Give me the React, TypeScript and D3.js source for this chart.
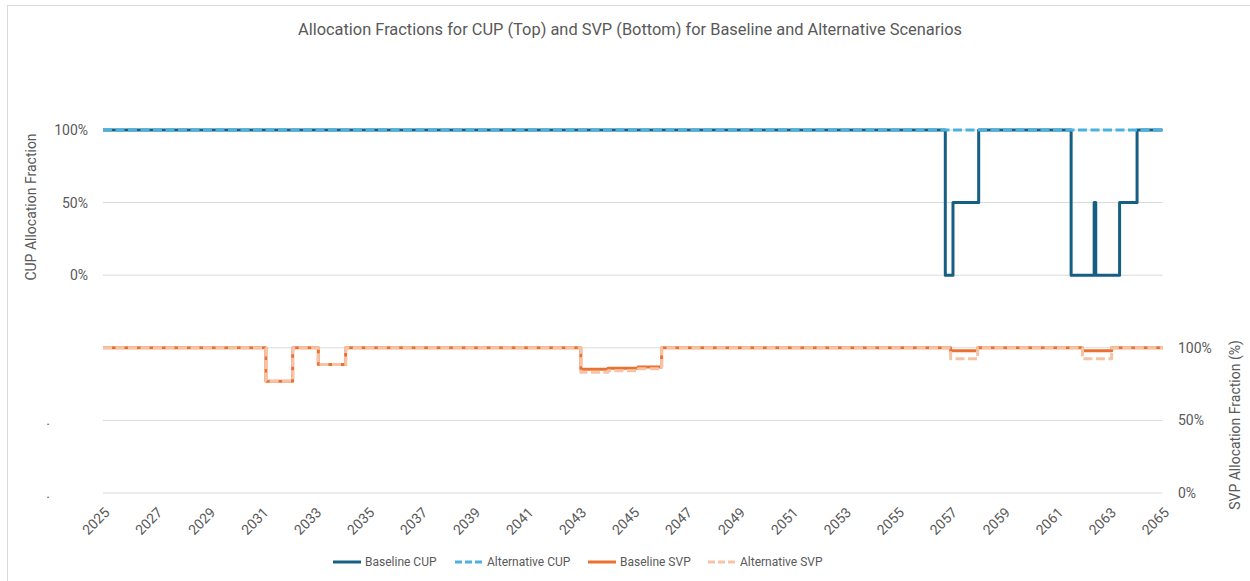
import React from "react";
import * as d3 from "d3";

// ---------- data (step change points: [year, percent]) ----------
const baselineCUP: [number, number][] = [
  [2025, 100], [2056.8, 0], [2057.09, 50], [2058.06, 100], [2061.55, 0],
  [2062.42, 50], [2062.48, 0], [2063.38, 50], [2064.04, 100], [2065, 100],
];
const alternativeCUP: [number, number][] = [
  [2025, 100], [2065, 100],
];
const baselineSVP: [number, number][] = [
  [2025, 100], [2031.15, 77], [2032.16, 100], [2033.13, 88.5], [2034.16, 100],
  [2043.04, 85.3], [2044.06, 86], [2045.2, 86.7], [2046.09, 100],
  [2057.0, 98], [2058.02, 100], [2061.98, 98], [2063.08, 100], [2065, 100],
];
const alternativeSVP: [number, number][] = [
  [2025, 100], [2031.15, 77], [2032.16, 100], [2033.13, 88.5], [2034.16, 100],
  [2043.04, 83.2], [2044.06, 84.2], [2045.2, 85.6], [2046.09, 100],
  [2057.0, 92.4], [2058.02, 100], [2061.98, 92.4], [2063.08, 100], [2065, 100],
];
const xTickYears = [2025, 2027, 2029, 2031, 2033, 2035, 2037, 2039, 2041, 2043, 2045,
  2047, 2049, 2051, 2053, 2055, 2057, 2059, 2061, 2063, 2065];
const leftTicks = [100, 50, 0, -50, -100, -150];
const leftTickLabels = ["100%", "50%", "0%", "", ".", "."];
const rightTicks = [100, 50, 0];
const rightTickLabels = ["100%", "50%", "0%"];

const seriesNames = ["Baseline CUP", "Alternative CUP", "Baseline SVP", "Alternative SVP"];

const W = 1250, H = 581;
const FONT = "Roboto, 'Liberation Sans', sans-serif";
const TXT = "#595959";

export default function App() {
  const x = d3.scaleLinear().domain([2025, 2065]).range([103, 1162.5]);
  const yL = d3.scaleLinear().domain([-150, 100]).range([493, 130]);
  const yR = d3.scaleLinear().domain([0, 250]).range([493, 130]);

  const lineL = d3.line<[number, number]>().x(d => x(d[0])).y(d => yL(d[1])).curve(d3.curveStepAfter);
  const lineR = d3.line<[number, number]>().x(d => x(d[0])).y(d => yR(d[1])).curve(d3.curveStepAfter);

  const styles = [
    { color: "#156082", dash: undefined as string | undefined },
    { color: "#4BB2E0", dash: "9,3.5" },
    { color: "#E97132", dash: undefined },
    { color: "#F6C3A6", dash: "9,3.5" },
  ];
  const paths = [lineL(baselineCUP), lineL(alternativeCUP), lineR(baselineSVP), lineR(alternativeSVP)];

  const legendX = [333, 455, 588, 708];

  return (
    <svg width={W} height={H} style={{ position: "absolute", left: 0, top: 0, background: "#fff" }} fontFamily={FONT}>
      <rect x={7.5} y={5.5} width={W} height={H} fill="#fff" stroke="#D9D9D9" strokeWidth={1} />
      <text x={630} y={35} textAnchor="middle" fontSize={16.4} fill={TXT}>
        Allocation Fractions for CUP (Top) and SVP (Bottom) for Baseline and Alternative Scenarios
      </text>

      {leftTicks.map(t => (
        <line key={t} x1={x(2025)} x2={x(2065)} y1={yL(t)} y2={yL(t)} stroke="#D9D9D9" strokeWidth={1} />
      ))}

      {leftTicks.map((t, i) => (
        <text key={"l" + t} x={leftTickLabels[i] === "." ? 50 : 88} y={yL(t)} dy="0.35em"
          textAnchor="end" fontSize={14} fill={TXT}>{leftTickLabels[i]}</text>
      ))}
      {rightTicks.map((t, i) => (
        <text key={"r" + t} x={1178} y={yR(t)} dy="0.35em" textAnchor="start" fontSize={14} fill={TXT}>
          {rightTickLabels[i]}
        </text>
      ))}

      {xTickYears.map(yr => (
        <text key={yr} transform={`translate(${x(yr) + 4},${510}) rotate(-45)`} dy="0.35em"
          textAnchor="end" fontSize={14} fill={TXT}>{yr}</text>
      ))}

      <text transform={`translate(36,207) rotate(-90)`} textAnchor="middle" fontSize={14} fill={TXT}>
        CUP Allocation Fraction
      </text>
      <text transform={`translate(1240,425) rotate(-90)`} textAnchor="middle" fontSize={14} fill={TXT}>
        SVP Allocation Fraction (%)
      </text>

      {paths.map((p, i) => (
        <path key={i} d={p || ""} fill="none" stroke={styles[i].color} strokeWidth={3}
          strokeDasharray={styles[i].dash} strokeLinejoin="round" />
      ))}

      {seriesNames.map((name, i) => (
        <g key={name} transform={`translate(${legendX[i]},562)`}>
          <line x1={0} x2={28} y1={0} y2={0} stroke={styles[i].color} strokeWidth={3}
            strokeDasharray={styles[i].dash ? "7,3" : undefined} />
          <text x={32} y={0} dy="0.35em" fontSize={12} fill={TXT}>{name}</text>
        </g>
      ))}
    </svg>
  );
}
